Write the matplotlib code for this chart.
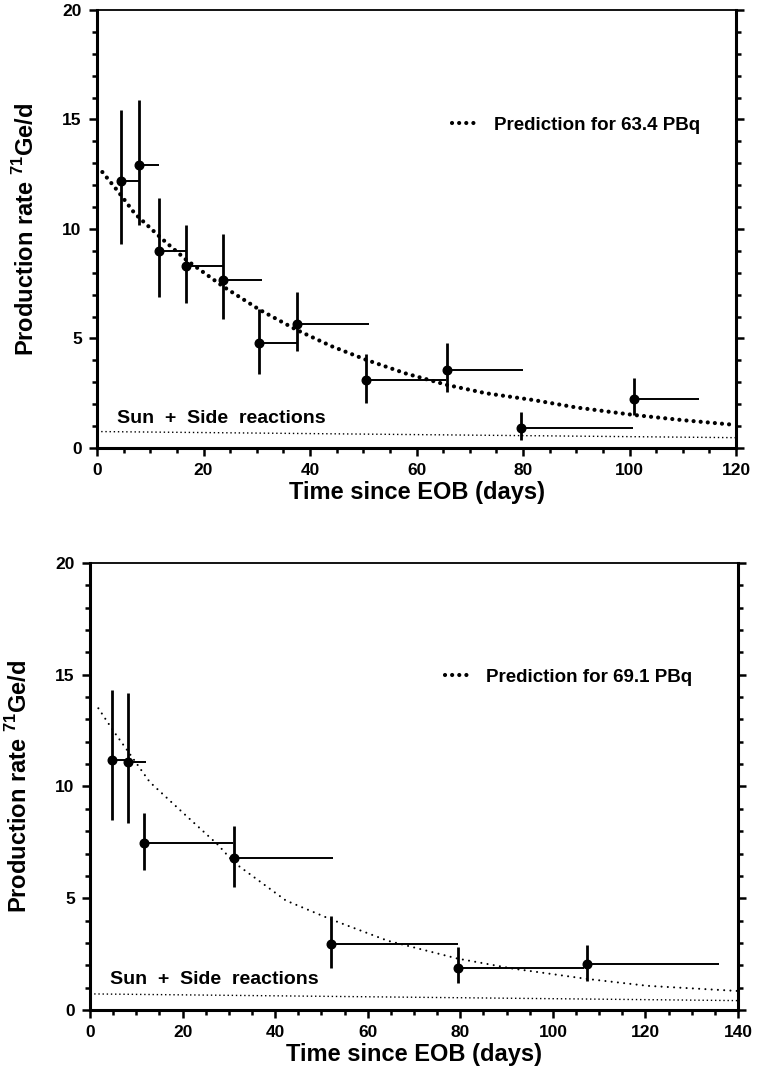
import matplotlib
matplotlib.use("Agg")
import matplotlib.pyplot as plt
from matplotlib.ticker import MultipleLocator
from matplotlib.lines import Line2D

plt.rcParams['font.family'] = ['Liberation Sans', 'DejaVu Sans']
plt.rcParams['font.weight'] = 'bold'
plt.rcParams['mathtext.fontset'] = 'custom'
plt.rcParams['mathtext.rm'] = 'Liberation Sans'
plt.rcParams['mathtext.bf'] = 'Liberation Sans:bold'

# ---- upper run (63.4 PBq) ----
t1 = [4.5, 7.9, 11.7, 16.7, 23.7, 30.5, 37.6, 50.6, 65.7, 79.6, 100.8]
t1_end = [7.9, 11.7, 16.7, 23.7, 30.9, 37.6, 51.0, 65.5, 79.9, 100.7, 113.1]
rate1 = [12.2, 12.9, 9.0, 8.3, 7.65, 4.8, 5.65, 3.1, 3.55, 0.93, 2.24]
hi1 = [15.45, 15.9, 11.4, 10.2, 9.75, 6.35, 7.1, 4.3, 4.8, 1.65, 3.2]
lo1 = [9.3, 10.2, 6.9, 6.6, 5.9, 3.4, 4.45, 2.05, 2.55, 0.35, 1.5]

pred1_t = [1.0, 4.0, 7.1, 12.1, 16.8, 23.7, 30.6, 37.5, 44.0, 50.6, 58.0, 65.7, 73.0, 81.9, 90.0, 100.7, 110.0, 120.0]
pred1 = [12.6, 11.7, 10.7, 9.57, 8.58, 7.37, 6.30, 5.39, 4.65, 4.02, 3.40, 2.88, 2.50, 2.19, 1.85, 1.51, 1.27, 1.05]
bg1_t = [0, 120]
bg1 = [0.75, 0.47]

# ---- lower run (69.1 PBq) ----
t2 = [4.8, 8.1, 11.6, 31.1, 52.1, 79.4, 107.4]
t2_end = [8.1, 12.1, 30.9, 52.6, 79.4, 106.7, 135.9]
rate2 = [11.2, 11.1, 7.45, 6.8, 2.95, 1.9, 2.05]
hi2 = [14.3, 14.2, 8.8, 8.23, 4.2, 2.8, 2.9]
lo2 = [8.5, 8.35, 6.25, 5.5, 1.87, 1.2, 1.3]

pred2_t = [1.8, 5.0, 8.1, 12.9, 20.2, 27.6, 31.1, 42.3, 52.1, 64.3, 79.4, 91.4, 107.4, 120.5, 140.0]
pred2 = [13.5, 12.5, 11.6, 10.2, 8.8, 7.4, 6.6, 4.9, 4.05, 3.1, 2.3, 1.85, 1.39, 1.08, 0.85]
bg2_t = [0, 140]
bg2 = [0.72, 0.42]

fig = plt.figure(figsize=(7.61, 10.74), dpi=100)
ax1 = fig.add_axes([0.1275, 0.5829, 0.8397, 0.4078])
ax2 = fig.add_axes([0.1183, 0.0596, 0.8515, 0.4162])


def panel(ax, t, t_end, rate, hi, lo, pt, pv, bt, bv, xmax, pbq, big_dots, leg_x, leg_y):
    widths = [e - s for s, e in zip(t, t_end)]
    up = [h - r for h, r in zip(hi, rate)]
    dn = [r - l for r, l in zip(rate, lo)]
    # counting interval to the right of each point, then the 1-sigma range
    ax.errorbar(t, rate, xerr=[[0] * len(t), widths], fmt='none', ecolor='black', elinewidth=1.4, capsize=0)
    ax.errorbar(t, rate, yerr=[dn, up], fmt='o', color='black', ms=6.2, elinewidth=2.0, capsize=0)

    if big_dots:
        ax.plot(pt, pv, color='black', lw=3.0, linestyle=(0, (0.01, 1.7)), dash_capstyle='round')
    else:
        ax.plot(pt, pv, color='black', lw=1.5, linestyle=(0, (0.01, 3.0)), dash_capstyle='round')
    ax.plot(bt, bv, color='black', lw=1.0, linestyle=(0, (1, 2)))

    ax.text(0.031, 0.068, 'Sun  +  Side  reactions', transform=ax.transAxes,
            fontsize=14, fontweight='bold', va='center')
    handle = Line2D([], [], color='black', lw=3.0, linestyle=(0, (0.01, 1.7)), dash_capstyle='round')
    ax.legend([handle], ['Prediction for %s PBq' % pbq], loc='center left', bbox_to_anchor=(leg_x, leg_y),
              frameon=False, handlelength=1.4, handletextpad=0.8, borderpad=0, borderaxespad=0,
              prop={'weight': 'bold', 'size': 13.5})

    ax.set_xlim(0, xmax)
    ax.set_ylim(0, 20)
    ax.xaxis.set_major_locator(MultipleLocator(20))
    ax.xaxis.set_minor_locator(MultipleLocator(5))
    ax.yaxis.set_major_locator(MultipleLocator(5))
    ax.yaxis.set_minor_locator(MultipleLocator(1))
    ax.tick_params(which='both', direction='out', right=True, top=False, labelright=False, width=1.8, labelsize=12.5)
    ax.tick_params(which='major', length=6, pad=5)
    ax.tick_params(which='minor', length=3.5)
    for side in ['left', 'bottom', 'right']:
        ax.spines[side].set_linewidth(2.2)
    ax.spines['top'].set_linewidth(1.3)

    ax.set_xlabel('Time since EOB (days)', fontsize=17, fontweight='bold', labelpad=2)
    ax.set_ylabel(r'Production rate $^{71}$Ge/d', fontsize=17, fontweight='bold', labelpad=17)


panel(ax1, t1, t1_end, rate1, hi1, lo1, pred1_t, pred1, bg1_t, bg1, 120, '63.4', True, 0.556, 0.737)
panel(ax2, t2, t2_end, rate2, hi2, lo2, pred2_t, pred2, bg2_t, bg2, 140, '69.1', False, 0.548, 0.745)

fig.savefig('out.png', dpi=100)
